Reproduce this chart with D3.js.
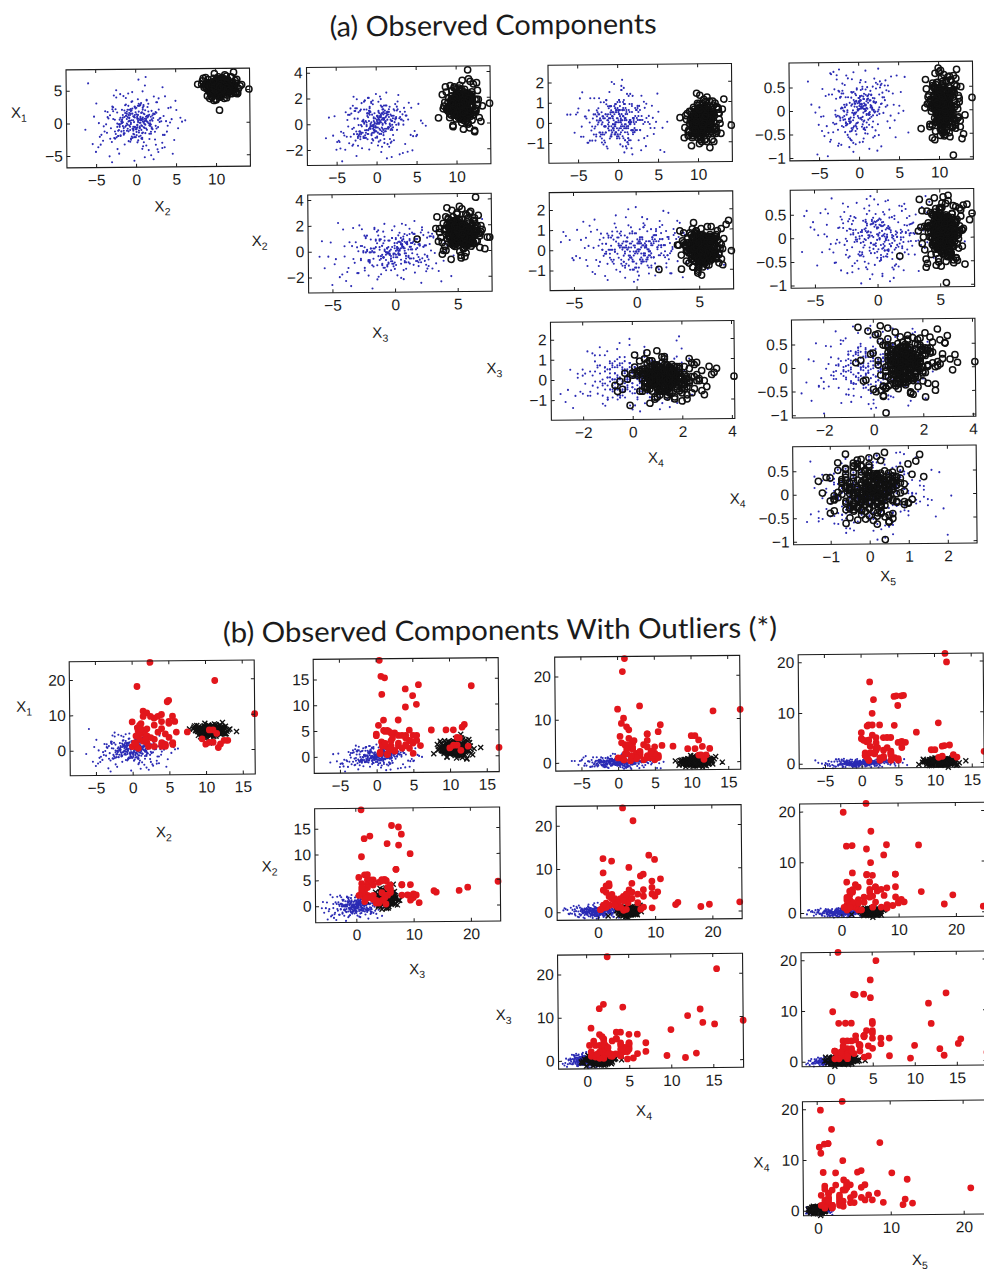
<!DOCTYPE html>
<html>
<head>
<meta charset="utf-8">
<script src="https://cdn.jsdelivr.net/npm/d3@7"></script>
<style>
  body { margin: 0; background: #fff; }
  svg { display: block; }
</style>
</head>
<body>
<svg id="fig" width="984" height="1281"></svg>
<script>
// ---- regular component (blue dots): five observed coordinates per point ----
const blueZ1 = [
  0.4,-1.9,2.7,-0.6,1.2,-3.5,0.8,4.1,-2.3,0.1,-0.9,3.0,-4.4,1.7,-1.2,0.6,2.2,-2.8,5.1,-0.3,
  1.5,-2.0,0.2,-5.2,3.4,-1.4,0.9,-0.2,2.9,-3.1,1.0,4.6,-1.7,0.5,-2.6,1.9,-0.7,3.7,-4.0,0.0,
  -1.1,2.4,-3.8,0.7,1.6,-0.4,-2.1,5.6,-0.8,1.3,-5.9,2.0,0.3,-1.5,3.2,-2.4,0.8,-0.1,1.8,-3.3,
  2.6,-1.0,0.4,-4.7,1.1,3.9,-2.7,0.6,-0.5,2.3,-1.6,4.4,-3.0,0.2,1.4,-2.2,6.2,-0.9,1.0,-1.3,
  -0.2,3.3,-1.8,0.9,-3.6,2.1,-0.6,1.7,-4.9,0.5,2.8,-1.1,0.1,-2.5,3.6,-0.3,1.2,-6.3,2.5,-1.4,
  0.7,-2.9,1.9,-0.8,4.8,-1.2,0.3,-3.9,2.2,1.1,-0.4,-2.0,3.1,-1.5,0.6,5.3,-2.3,0.9,-0.7,1.6,
  -3.2,0.2,2.7,-1.7,0.8,-4.3,1.4,-0.1,3.5,-2.6,0.4,1.8,-1.0,-5.4,2.0,0.7,-0.9,4.0,-2.1,1.3,
  0.0,-1.3,3.8,-0.5,2.4,-3.4,1.0,-2.8,0.5,1.5,-0.2,4.5,-1.9,0.8,-3.7,2.9,-0.6,1.1,-4.6,0.3,
  2.0,-0.8,-2.2,1.2,3.3,-1.6,0.6,-0.3,5.8,-2.4,1.7,-1.1,0.2,-3.0,2.6,-0.7,1.4,-5.0,0.9,-1.8,
  3.0,-0.4,1.0,-2.7,0.4,4.3,-1.4,-0.1,2.1,-3.5,0.7,1.9,-0.9,-2.0,3.4,-1.2,0.5,2.8,-4.1,1.3,
  -0.6,0.9,-1.7,3.6,-2.9,1.6,0.1,-4.5,2.3,-0.3,1.1,-1.5,5.0,-2.3,0.6,-0.8,2.5,-3.2,0.3,1.8,
  0.5,-1.2,1.8,-0.3,0.9,-2.1,0.2,1.4,-0.8,2.5,-1.6,0.7,-0.1,1.1,-2.6,0.4,1.9,-0.6,-1.4,0.8,
  -0.4,1.3,-1.9,0.6,2.2,-0.9,0.1,-2.3,1.6,-0.2,0.9,-1.1,2.8,-0.5,0.3,-1.7,1.2,-0.7,0.0,1.5,
  1.0,-0.6,-1.5,2.0,-0.1,0.7,-2.4,1.3,-0.9,0.4,-1.3,1.7,0.2,-0.4,2.4,-1.9,0.6,-0.2,1.1,-2.8,
  -0.7,0.3,1.6,-1.0,0.8,-0.3,2.1,-1.5,0.0,1.2,-2.0,0.5,-0.6,1.8,-1.1,0.9,-0.1,-2.2,1.4,0.2,
  0.6,-1.8,0.1,1.0,-0.5,2.6,-1.2,0.4,-0.8,1.5,-0.3,0.8,-2.5,0.3,1.9,-1.0,0.1,1.3,-0.4,-1.6
];
const blueZ2 = [
  -1.2,0.8,3.1,-2.4,0.3,1.7,-4.0,2.2,-0.6,-1.9,4.5,0.1,-3.3,1.2,-0.4,2.8,-5.6,0.6,1.9,-1.0,
  2.4,-0.2,-3.0,1.0,5.4,-1.6,0.5,-2.2,3.7,-0.8,1.4,-4.8,0.0,2.6,-1.3,0.9,-2.9,4.0,-0.5,1.6,
  -0.1,-2.6,1.8,0.4,-4.2,3.3,-1.1,0.7,2.0,-3.5,6.1,-0.7,1.2,-1.8,0.2,3.9,-2.3,0.8,-0.3,-5.1,
  1.5,-0.9,2.9,-3.7,0.6,-1.4,4.2,0.0,-2.1,1.3,-0.5,2.3,-6.0,1.0,3.5,-1.2,0.3,-2.8,2.7,-0.6,
  0.9,-3.1,0.2,4.8,-1.5,1.1,-0.2,-2.5,3.0,0.5,-4.5,1.7,-0.8,2.1,-1.9,0.4,5.7,-1.0,-3.4,1.9,
  -0.4,2.5,-1.7,0.8,-2.7,3.8,0.1,-1.3,1.4,-5.3,2.2,-0.6,0.7,4.1,-2.0,-0.9,1.6,-3.6,0.3,2.9,
  1.2,-0.3,-4.1,2.0,0.6,-1.8,3.4,-0.7,1.0,-2.4,6.6,-0.1,0.9,-3.2,1.8,-1.1,2.6,-0.5,-4.7,0.4,
  -2.2,1.5,0.2,3.2,-1.4,0.7,-3.0,2.4,-0.8,1.1,-5.8,0.5,4.4,-1.6,-0.2,2.0,-2.6,1.3,0.0,3.6,
  -0.9,0.3,-2.0,1.9,-3.9,0.8,2.7,-1.2,0.1,5.0,-1.7,1.4,-0.4,-2.9,3.1,-0.6,1.0,-4.4,2.3,-1.3,
  0.6,4.7,-0.7,-2.3,1.7,0.0,-3.3,2.5,-1.0,0.9,3.0,-5.0,1.2,-0.3,-1.9,2.8,-0.8,0.4,-2.7,7.0,
  1.8,-1.5,0.5,-3.8,2.1,-0.1,1.3,-2.1,4.0,-0.9,0.2,-1.6,3.3,-4.0,0.7,1.5,-0.5,-2.4,2.6,-0.2,
  -0.6,1.1,0.3,-1.7,2.0,-0.2,0.8,-1.1,-0.4,1.6,0.1,-2.4,1.2,-0.8,0.5,2.6,-1.4,0.0,0.9,-0.5,
  1.4,-0.9,-2.0,0.4,0.7,-1.3,2.3,-0.1,1.0,-1.8,0.2,0.6,-0.7,1.9,-2.7,0.3,-0.3,1.2,-1.0,0.8,
  0.0,2.1,-1.2,0.5,-0.6,1.5,-2.2,0.9,0.2,-1.5,2.7,-0.4,0.6,-0.9,1.3,-1.9,0.4,0.1,-0.2,1.8,
  -1.1,0.6,1.7,-0.3,-2.5,1.0,0.3,-0.8,2.2,-1.6,0.5,0.0,1.4,-0.5,-1.2,0.8,2.4,-2.0,0.2,-0.7,
  0.9,-0.1,-1.4,2.5,0.4,-0.9,1.1,-2.1,0.7,0.1,-0.6,1.6,-1.7,0.3,-0.3,2.0,-1.0,0.6,-2.3,1.2
];
const blueZ3 = [
  0.3,-0.8,1.1,-1.5,0.0,0.7,-0.4,1.6,-1.1,0.2,-2.0,0.9,-0.6,1.3,-0.2,0.5,-1.3,2.1,-0.9,0.4,
  -0.3,1.0,-1.7,0.6,-0.1,1.8,-0.7,0.1,-2.4,0.8,1.4,-1.0,0.2,-0.5,1.2,-1.4,0.0,0.6,-0.9,2.3,
  -1.2,0.4,0.9,-0.3,-1.8,1.5,-0.6,0.2,1.0,-2.7,0.5,-0.1,1.7,-1.1,0.3,-0.8,1.1,-0.2,-1.5,0.7,
  1.3,-0.5,0.0,-1.3,0.8,-2.2,0.4,1.9,-0.7,0.1,-1.0,1.2,-0.4,0.6,-1.6,0.9,-0.2,2.0,-1.2,0.2,
  -0.6,0.7,-1.9,1.1,0.3,-0.9,1.6,-0.1,-1.4,0.5,2.2,-0.8,0.0,-2.5,0.9,-0.3,1.4,-1.1,0.4,-0.5,
  0.8,-1.6,0.2,1.3,-0.6,-0.1,1.0,-2.0,0.6,-0.4,1.8,-1.2,0.3,0.0,-0.8,1.5,-1.7,0.7,-0.2,1.1,
  -1.0,0.1,1.7,-0.7,0.4,-2.9,0.9,-0.3,1.2,-1.3,0.5,-0.5,2.0,-0.9,0.2,-1.8,1.0,0.3,-0.6,1.4,
  0.0,-1.1,0.6,-0.2,1.5,-1.5,0.3,-0.8,2.1,-0.4,0.8,-2.1,1.1,-0.1,-1.0,0.4,1.7,-0.6,-1.4,0.9,
  -0.5,1.2,-0.9,0.5,-2.3,0.2,1.4,-0.7,0.0,1.9,-1.2,0.6,-0.3,-1.7,1.0,-0.1,0.7,-2.0,0.3,1.6,
  0.5,-0.4,-1.5,1.0,0.1,-0.9,1.8,-1.1,0.4,-0.2,1.3,-2.6,0.8,-0.6,0.2,1.1,-1.3,0.0,-0.7,2.4,
  -0.8,0.9,0.2,-1.6,1.4,-0.3,0.6,-1.9,1.0,-0.5,0.1,1.7,-1.0,0.4,-2.2,0.7,-0.1,1.2,-1.4,0.3,
  0.2,-0.5,0.7,-0.1,0.4,-0.8,0.0,0.9,-0.3,0.5,-1.1,0.3,-0.6,0.1,1.0,-0.4,0.6,-0.2,-0.9,0.8,
  -0.2,0.6,-0.7,0.1,1.1,-0.4,0.3,-1.0,0.5,0.0,-0.5,0.8,-0.1,-1.2,0.4,0.2,-0.6,0.9,-0.3,0.7,
  0.4,-0.9,0.1,0.6,-0.2,-0.6,1.2,-0.4,0.2,0.8,-0.7,0.0,0.5,-1.3,0.3,-0.1,0.7,-0.5,1.0,-0.3,
  -0.4,0.3,0.9,-0.8,0.0,0.5,-0.3,1.1,-0.6,0.2,-1.0,0.6,0.1,-0.2,0.8,-0.9,0.4,-0.1,0.3,-0.7,
  0.6,-0.2,-1.1,0.4,0.7,-0.5,0.1,-0.8,0.9,-0.3,0.2,1.3,-0.6,0.0,-0.4,0.5,-1.0,0.8,-0.1,0.3
];
const blueZ4 = [
  0.2,-0.5,0.8,-0.1,0.4,-0.9,0.6,-0.3,1.2,0.0,-0.7,0.3,1.5,-0.4,0.1,-1.2,0.7,-0.2,0.5,-0.6,
  0.9,-0.1,-0.8,0.4,0.0,1.1,-0.5,0.6,-1.4,0.2,0.7,-0.3,-0.9,1.8,0.1,-0.4,0.5,-0.7,0.3,1.0,
  -0.2,0.6,-1.0,0.3,1.4,-0.6,0.1,-0.3,0.8,-1.1,0.4,0.0,1.0,-0.5,-0.1,0.7,-1.5,0.2,0.9,-0.4,
  0.5,-0.8,0.1,1.2,-0.2,0.3,-0.6,2.1,-0.4,0.6,-1.0,0.2,0.4,-0.3,1.3,-0.7,0.0,0.8,-1.2,0.1,
  -0.5,1.0,0.3,-0.9,0.6,-0.1,0.2,-1.3,0.7,1.6,-0.4,0.0,-0.7,0.5,0.9,-0.2,-1.0,0.4,0.1,1.1,
  0.3,-0.3,1.3,-0.6,0.0,0.8,-1.1,0.2,-0.4,0.5,1.9,-0.8,0.1,-0.2,0.6,-1.4,0.4,0.9,-0.5,0.0,
  -0.9,0.4,0.1,-0.2,1.1,-0.7,0.6,0.0,-1.2,0.3,-0.3,0.8,1.5,-0.5,0.2,-0.8,0.5,-0.1,1.0,-0.6,
  0.7,-1.3,0.0,0.5,-0.4,1.2,0.2,-0.9,0.4,-0.1,0.9,-0.6,0.3,1.7,-1.0,0.1,-0.3,0.6,-0.7,0.8,
  0.1,0.6,-0.5,1.4,-0.8,0.2,-0.2,0.9,-1.5,0.4,0.0,-0.4,1.1,-0.6,0.3,2.0,-0.9,0.5,-0.1,-1.1,
  1.3,-0.2,0.4,-0.7,0.1,0.8,-1.2,0.6,-0.3,0.0,1.0,-0.5,0.2,-1.0,0.7,-0.1,1.6,-0.4,0.3,-0.8,
  -0.3,0.9,-0.6,0.2,1.2,-0.9,0.5,-0.2,0.0,0.7,-1.3,0.4,1.4,-0.5,0.1,-0.7,0.8,-0.2,0.6,-1.6,
  0.1,-0.3,0.5,-0.1,0.2,-0.6,0.4,0.0,-0.4,0.7,-0.2,0.3,-0.8,0.1,0.6,-0.5,0.2,-0.1,0.9,-0.3,
  0.4,-0.2,0.0,-0.7,0.3,0.8,-0.4,0.1,-0.1,0.5,-0.9,0.2,0.6,-0.3,0.0,1.0,-0.5,0.3,-0.6,0.1,
  -0.1,0.5,-0.5,0.2,-0.3,0.7,0.0,-0.8,0.4,-0.2,0.3,-0.4,1.1,-0.1,0.2,-0.6,0.6,0.0,-0.3,0.4,
  0.3,-0.6,0.1,0.8,-0.2,0.0,-0.5,0.4,0.2,-1.0,0.5,-0.1,0.3,-0.4,0.7,0.1,-0.7,0.2,0.0,0.6,
  -0.4,0.2,0.6,-0.3,0.1,-0.9,0.4,0.0,-0.2,0.5,-0.5,0.9,-0.1,0.3,-0.6,0.2,0.1,-0.3,0.8,-0.2
];
const blueZ5 = [
  0.12,-0.35,0.48,-0.07,0.25,-0.62,0.03,0.71,-0.21,0.16,-0.44,0.37,-0.12,0.05,-0.78,0.29,0.58,-0.28,0.09,-0.51,
  0.41,-0.15,0.22,-0.93,0.63,-0.04,0.33,-0.39,0.14,0.82,-0.26,-0.58,0.07,0.45,-0.11,0.19,-0.69,0.52,-0.33,0.01,
  -0.18,0.55,-0.47,0.24,0.08,-0.72,0.36,-0.02,0.66,-0.31,0.13,-0.55,0.43,-0.09,0.27,0.87,-0.42,0.02,-0.24,0.34,
  0.06,-0.63,0.31,-0.13,0.49,-0.38,0.75,-0.05,0.18,-0.86,0.28,0.11,-0.29,0.59,-0.17,0.04,-0.48,0.39,-0.08,0.68,
  -0.27,0.21,-0.02,0.44,-0.66,0.15,0.81,-0.36,0.07,-0.14,0.53,-0.45,0.26,-0.70,0.10,0.32,-0.20,0.62,-0.53,0.00,
  0.35,-0.09,0.17,-0.41,0.73,-0.23,0.04,-0.97,0.46,0.23,-0.32,0.57,-0.06,0.13,-0.60,0.38,-0.16,0.84,-0.37,0.09,
  -0.46,0.30,0.61,-0.19,0.02,-0.54,0.20,-0.01,0.42,-0.75,0.14,0.50,-0.25,-0.04,0.67,-0.40,0.27,-0.12,0.06,-0.82,
  0.19,-0.57,0.40,0.08,-0.30,0.77,-0.10,0.25,-0.67,0.11,0.47,-0.22,0.00,-0.49,0.34,0.56,-0.15,0.03,-0.43,0.64,
  -0.05,0.38,-0.73,0.16,0.52,-0.27,0.09,-0.35,0.70,-0.13,0.01,-0.60,0.29,0.45,-0.08,-0.88,0.21,-0.30,0.60,0.12,
  0.27,-0.44,0.05,0.66,-0.20,0.35,-0.52,0.15,-0.03,0.79,-0.37,0.18,-0.64,0.42,0.07,-0.18,0.50,-0.77,0.31,-0.10,
  -0.34,0.10,0.54,-0.24,0.00,0.33,-0.68,0.46,-0.11,0.20,-0.50,0.74,-0.07,0.28,-0.40,0.13,0.88,-0.26,0.04,-0.58,
  0.05,-0.18,0.26,-0.04,0.12,-0.33,0.20,-0.09,0.38,0.01,-0.25,0.15,-0.12,0.30,-0.41,0.08,-0.02,0.22,-0.29,0.11,
  -0.07,0.34,-0.20,0.03,0.17,-0.38,0.09,0.27,-0.14,0.44,-0.01,-0.27,0.13,-0.05,0.21,-0.46,0.31,0.00,-0.16,0.06,
  0.19,-0.10,-0.31,0.25,0.02,-0.22,0.40,-0.06,0.10,-0.35,0.28,0.04,-0.18,0.14,-0.03,0.36,-0.24,0.07,0.23,-0.13,
  -0.21,0.08,0.32,-0.15,-0.02,0.18,-0.43,0.11,0.26,-0.08,0.05,-0.30,0.39,-0.11,0.16,0.00,-0.26,0.29,-0.04,0.13,
  0.24,-0.12,0.03,-0.36,0.14,0.33,-0.19,0.07,-0.05,0.21,-0.28,0.10,0.42,-0.16,0.01,-0.23,0.18,-0.09,0.35,-0.32
];

// ---- shifted component (black circles / crosses) ----
const blackZ1 = [
  10.6,9.8,11.3,10.1,12.0,9.2,10.9,11.6,10.3,8.7,11.0,10.4,12.4,9.6,10.8,11.9,9.9,10.2,13.1,10.7,
  9.4,11.2,10.5,8.3,11.7,10.0,12.2,9.7,10.9,11.4,10.2,9.1,12.7,10.6,9.5,11.1,10.3,12.0,8.9,10.8,
  11.5,10.1,9.3,10.7,12.5,9.9,11.0,10.4,8.5,11.8,10.6,9.6,11.3,10.0,12.9,9.8,10.5,11.6,9.2,10.9,
  10.3,12.1,9.7,11.0,10.6,8.8,11.4,10.2,9.9,12.6,10.8,11.2,9.4,10.0,11.7,10.4,9.0,12.3,10.7,11.1,
  9.6,10.9,11.8,10.1,9.3,12.0,10.5,11.3,8.6,10.7,11.9,9.8,10.3,12.8,10.0,11.5,9.5,10.8,11.0,9.1,
  12.4,10.2,9.7,11.1,10.6,8.9,11.6,10.4,12.2,9.9,10.8,11.3,9.4,10.1,13.3,10.5,9.6,11.7,10.3,12.0,
  10.7,9.2,11.2,10.0,12.5,9.8,10.9,11.5,10.2,8.4,11.0,10.6,12.1,9.5,10.4,11.8,9.9,10.8,11.4,10.1,
  9.7,11.9,10.3,12.7,10.5,9.0,11.1,10.0,11.6,9.6,10.9,12.3,10.2,9.3,11.3,10.7,8.8,11.5,10.4,12.6,
  14.2,11.5,12.3,11.8,10.5,7.8,
  10.4,10.9,10.1,11.2,10.6,9.9,10.8,11.4,10.3,9.7,11.0,10.5,10.0,11.6,10.7,9.5,10.2,11.1,10.6,10.0,
  11.3,10.4,9.8,10.9,10.1,11.5,10.6,9.6,10.3,11.0,10.8,9.9,11.7,10.2,10.5,11.2,9.4,10.7,10.0,11.4,
  10.6,10.1,11.1,9.8,10.4,11.6,10.2,10.9,9.6,10.7,11.3,10.0,10.5,9.3,11.0,10.3,11.8,10.6,9.9,10.8,
  10.2,11.5,10.7,10.0,11.1,9.7,10.5,10.9,10.3,11.4,9.9,10.6,11.0,10.1,9.5,10.8,11.2,10.4,10.0,11.7,
  9.8,10.6,11.3,10.2,10.9,9.6,10.4,11.1,10.7,10.0,11.5,10.3,9.9,10.8,11.2,10.5,9.4,10.1,11.0,10.6,
  11.1,10.3,9.7,10.8,10.5,11.4,10.0,10.7,9.9,11.2,10.4,10.9,9.6,10.6,11.6,10.2,10.8,9.8,11.0,10.5
];
const blackZ2 = [
  5.6,4.8,6.2,5.1,4.3,5.9,6.8,5.0,4.5,5.7,6.3,4.9,5.4,3.8,6.0,5.2,4.6,6.6,5.5,4.1,
  5.0,6.4,4.7,5.8,5.3,3.5,6.1,4.4,5.6,7.0,4.9,5.2,6.5,4.0,5.9,5.4,4.6,6.9,5.1,4.2,
  6.0,4.8,5.5,3.9,6.3,5.0,4.5,5.8,6.7,5.3,4.1,5.7,6.2,4.7,5.1,3.3,6.0,5.5,4.9,6.4,
  4.4,5.9,5.2,6.6,4.8,5.4,3.7,6.1,5.0,4.6,5.8,7.2,4.3,5.6,5.1,6.3,4.0,5.3,5.9,4.7,
  5.7,4.5,6.0,5.1,3.6,5.5,6.4,4.9,5.3,4.2,6.8,5.0,5.6,4.4,6.2,5.2,3.9,5.8,4.7,6.5,
  5.1,6.3,4.6,5.4,4.0,5.9,5.2,6.9,4.8,5.6,4.3,6.1,5.0,3.4,5.7,6.6,4.5,5.3,6.0,4.9,
  6.2,4.7,5.3,5.9,4.4,6.7,5.0,4.1,5.6,6.3,5.2,3.8,5.8,6.0,4.6,5.4,7.4,4.9,5.5,4.2,
  4.8,5.5,6.5,4.3,5.1,6.0,3.6,5.7,6.4,4.9,5.3,4.5,6.1,5.0,5.8,4.0,6.8,5.2,4.6,5.9,
  5.0,6.5,7.6,5.5,1.8,5.8,
  5.4,5.0,5.9,4.8,5.2,5.7,4.6,5.5,6.1,5.1,4.9,5.8,5.3,4.4,5.6,6.0,5.0,4.7,5.4,5.9,
  5.1,5.6,4.5,5.3,6.2,4.9,5.5,5.8,4.7,5.2,6.0,5.0,4.6,5.7,5.3,4.8,5.9,5.4,6.3,5.0,
  5.7,4.9,5.3,6.0,5.1,4.6,5.5,5.2,5.9,4.8,5.4,6.1,5.0,5.6,4.5,5.8,5.3,4.9,5.6,5.2,
  4.8,5.5,6.2,5.1,5.3,4.7,5.8,5.0,5.4,6.0,4.9,5.6,5.2,4.6,5.9,5.3,5.7,5.0,4.8,5.5,
  5.3,6.0,4.7,5.5,5.0,5.8,5.2,4.5,5.6,5.1,5.9,4.9,5.4,6.1,5.0,4.7,5.5,5.8,5.2,4.9,
  5.6,5.1,5.4,4.8,6.0,5.3,4.9,5.7,5.2,4.6,5.5,5.0,5.9,5.3,4.8,5.6,5.1,6.2,5.0,5.4
];
const blackZ3 = [
  1.3,0.6,1.9,0.9,2.4,1.1,0.2,1.6,1.0,2.8,0.5,1.4,1.8,-0.3,1.2,2.1,0.8,1.5,0.1,2.6,
  1.0,1.7,0.4,2.2,1.3,0.7,3.0,1.1,-0.5,1.6,2.0,0.9,1.4,0.3,2.5,1.2,0.6,1.9,1.0,3.3,
  0.8,2.3,1.5,0.0,1.1,1.8,0.5,2.7,1.3,0.9,1.6,-0.2,2.0,1.2,0.4,1.7,2.9,1.0,0.7,1.4,
  2.1,0.6,1.2,1.9,0.3,2.4,1.0,1.5,0.8,3.1,1.3,0.1,1.8,1.1,2.2,0.5,1.6,-0.6,1.4,2.6,
  1.1,1.7,0.7,2.0,1.4,0.2,2.5,1.0,1.6,0.9,1.3,2.8,0.4,1.8,1.2,-0.1,2.1,1.5,0.6,1.9,
  0.9,2.3,1.2,0.5,1.7,1.0,3.4,1.4,0.8,2.0,1.1,0.3,1.6,2.6,1.3,0.7,1.9,-0.4,1.5,2.2,
  1.6,0.4,2.1,1.2,0.9,2.7,1.4,0.0,1.8,1.1,2.4,0.6,1.3,1.7,0.8,3.2,1.0,1.5,0.2,2.0,
  1.2,1.9,0.7,2.5,1.4,0.9,1.7,0.3,2.2,1.0,1.6,-0.7,1.3,2.9,0.8,1.5,1.1,2.3,0.5,1.8,
  1.5,4.1,1.0,0.5,0.9,0.4,
  1.2,1.6,0.8,1.4,1.0,1.9,1.3,0.7,1.5,1.1,2.0,1.2,0.6,1.7,1.3,0.9,1.5,2.1,1.0,1.4,
  1.5,0.9,1.3,1.8,1.1,0.5,1.6,1.2,2.2,1.0,1.4,0.8,1.7,1.3,0.7,1.9,1.1,1.5,0.6,1.2,
  1.0,1.7,1.2,0.6,1.4,2.0,1.1,1.5,0.9,1.3,1.8,0.7,1.6,1.2,2.3,1.0,1.4,0.8,1.7,1.3,
  1.6,1.1,0.7,1.5,1.3,1.9,0.9,1.4,1.2,0.5,1.7,1.0,1.5,2.1,1.2,0.8,1.6,1.3,1.0,1.8,
  1.3,0.8,1.8,1.2,1.5,0.9,1.4,2.0,1.1,1.6,0.7,1.3,1.9,1.0,1.5,1.2,0.6,1.7,1.4,1.1,
  0.9,1.5,1.2,1.8,1.0,1.4,0.6,1.6,1.3,2.2,1.1,0.8,1.5,1.2,1.9,1.0,1.4,0.7,1.6,1.3
];
const blackZ4 = [
  0.1,-0.4,0.5,-0.1,0.8,-0.6,0.2,0.0,-0.9,0.4,-0.2,0.7,-0.5,0.3,1.1,-0.3,0.1,-0.7,0.6,-0.1,
  -0.3,0.6,0.0,-0.8,0.3,0.9,-0.4,0.2,-0.1,0.5,-1.1,0.1,0.4,-0.6,0.7,-0.2,1.3,0.0,-0.5,0.3,
  0.4,-0.2,-0.7,0.2,0.6,-0.4,1.0,-0.1,0.3,-0.9,0.5,0.0,-0.3,0.8,-0.6,0.2,-0.1,0.4,-1.2,0.7,
  -0.5,0.3,0.1,-0.2,0.9,-0.7,0.4,-0.3,0.0,0.6,-0.4,1.2,0.2,-0.8,0.1,0.5,-0.1,-0.6,0.3,0.8,
  0.2,-0.9,0.6,0.0,-0.3,0.4,-0.5,0.7,0.1,-0.2,1.0,-0.6,0.3,-0.1,0.5,-1.3,0.2,0.6,-0.4,0.0,
  0.7,-0.1,-0.6,0.3,0.1,-0.4,0.5,-0.8,0.9,0.0,-0.2,0.4,-0.7,0.2,1.1,-0.3,0.6,-0.5,0.1,-1.0,
  -0.2,0.5,0.2,-0.5,0.7,0.0,-0.9,0.3,0.6,-0.3,0.1,0.8,-0.4,0.4,-0.6,0.2,1.4,-0.1,0.3,-0.7,
  0.3,-0.6,0.9,0.1,-0.2,0.5,-1.0,0.4,-0.4,0.0,0.7,-0.3,0.2,-0.8,0.6,0.1,-0.5,1.0,-0.1,0.4,
  -0.2,0.1,-0.1,0.4,-1.0,0.2,
  0.0,0.3,-0.2,0.4,-0.1,0.1,-0.4,0.2,0.5,-0.3,0.1,0.0,-0.5,0.3,0.2,-0.2,0.6,-0.1,0.0,0.4,
  -0.3,0.2,0.5,-0.1,0.0,-0.4,0.3,0.1,-0.2,0.6,-0.5,0.2,0.0,0.4,-0.3,0.1,-0.1,0.5,0.2,-0.6,
  0.2,-0.2,0.0,0.4,-0.3,0.1,0.6,-0.4,0.3,-0.1,0.2,-0.5,0.1,0.0,0.5,-0.2,0.3,-0.3,0.0,0.7,
  0.4,-0.1,0.2,-0.6,0.1,0.3,-0.2,0.0,0.5,-0.4,0.2,0.1,-0.3,0.6,-0.1,0.0,0.3,-0.5,0.2,-0.2,
  -0.1,0.5,-0.3,0.1,0.2,-0.2,0.4,-0.5,0.0,0.3,-0.1,0.6,0.1,-0.4,0.2,0.0,-0.2,0.4,-0.6,0.1,
  0.3,0.0,-0.4,0.2,0.5,-0.1,0.1,-0.3,0.4,0.0,-0.6,0.2,0.3,-0.2,0.1,0.6,-0.1,0.0,0.3,-0.4
];
const blackZ5 = [
  0.08,-0.21,0.35,-0.05,0.52,-0.33,0.14,0.62,-0.12,0.27,-0.44,0.19,0.01,-0.27,0.41,0.72,-0.08,0.23,-0.52,0.11,
  0.30,-0.15,0.47,0.04,-0.38,0.21,0.66,-0.02,0.15,-0.58,0.36,0.09,-0.24,0.55,0.00,-0.11,0.83,0.18,-0.31,0.25,
  -0.06,0.40,0.12,-0.47,0.29,0.58,-0.19,0.06,0.44,-0.35,0.20,0.77,-0.09,0.33,-0.62,0.13,0.50,-0.14,0.03,0.37,
  0.24,-0.40,0.07,0.61,-0.17,0.31,0.00,-0.55,0.45,0.16,-0.26,0.69,0.10,-0.07,0.39,-0.45,0.22,0.85,-0.13,0.02,
  0.43,-0.10,0.26,-0.30,0.56,0.05,-0.50,0.34,0.12,0.74,-0.20,0.17,-0.41,0.48,0.04,0.28,-0.64,0.15,0.60,-0.04,
  -0.18,0.32,0.53,-0.08,0.20,-0.36,0.09,0.67,-0.23,0.38,0.01,-0.49,0.27,0.80,-0.12,0.14,0.46,-0.29,0.06,0.35,
  0.19,-0.60,0.40,0.11,-0.16,0.57,-0.03,0.30,-0.42,0.64,0.08,0.23,-0.33,0.49,0.13,-0.07,0.36,-0.53,0.71,0.00,
  -0.25,0.42,0.06,-0.37,0.59,0.18,-0.14,0.88,0.03,-0.46,0.28,0.10,-0.20,0.51,0.37,-0.56,0.15,0.63,-0.09,0.24,
  0.25,0.10,0.50,-0.97,-0.40,-0.40,
  0.02,0.21,-0.15,0.30,-0.04,0.12,-0.26,0.37,0.08,-0.10,0.25,-0.31,0.15,0.00,0.42,-0.18,0.10,0.28,-0.07,0.19,
  -0.12,0.33,0.05,-0.22,0.17,0.46,-0.02,0.11,-0.35,0.24,0.07,-0.14,0.38,0.01,-0.27,0.20,0.13,-0.05,0.31,-0.19,
  0.16,-0.08,0.27,0.04,-0.30,0.35,0.09,-0.17,0.22,0.48,-0.01,0.14,-0.24,0.06,0.29,-0.11,0.40,0.03,-0.20,0.18,
  0.26,-0.16,0.08,0.36,-0.06,0.19,-0.33,0.12,0.44,0.00,-0.21,0.23,0.05,-0.12,0.32,0.15,-0.28,0.09,0.39,-0.03,
  -0.09,0.28,0.14,-0.25,0.41,0.02,0.18,-0.13,0.07,0.34,-0.37,0.21,0.10,-0.04,0.26,-0.19,0.47,0.06,-0.15,0.12,
  0.11,-0.20,0.35,0.03,-0.10,0.24,0.43,-0.29,0.16,0.01,0.30,-0.07,0.20,-0.34,0.09,0.38,-0.02,0.13,-0.23,0.27
];

// ---- outliers (red, panel b only) ----
const redZ1 = [
  16.7,13,11.5,10.5,9.5,7.5,12,11,12.5,10,
  10.5,11,11.7,1.2,5.8,5.5,4.5,1.7,5,1.5,
  1,0.7,3,0,0.8,0.5,1.2,4,4,5.5,
  2.5,0.7,5,1.5,2,4,11.3,4.8,0,1,
  2,3,4,1,2,1,2,0.5,3,4,
  4.5,5.5,3,4,5,6,1.5,3.5,2.5,0.5,
  1.5,0.8,2.5,3.5,1.2,5,2.2,0.3,4.5,1.8
];
const redZ2 = [
  10,2.5,4.5,2,3,5,1.5,5.5,2.5,1.5,
  5.5,2,0.5,5.3,8,2,1,4.5,7.5,5.2,
  4.5,6.3,9,1,5.5,1,7.5,1.5,1,9.5,
  24.8,18,14,11,10.5,10,19.5,13.6,8,7,
  6,7,6,5,4,3,2,1.5,3,2,
  1.5,1.5,1,8,8,5,9.5,9.5,9.5,4,
  2.5,0.5,3.5,5,6,3.5,1,2,4.5,3
];
const redZ3 = [
  1.5,13.5,1,5,5,5,6,3.5,1.8,1.5,
  2,2,5.5,4.8,13.8,4,3,4.8,11.7,0.3,
  2.5,15.5,2,4.3,12,18.6,15.2,13,9.5,10,
  4.5,2.8,2.5,0.5,2,2.2,3.4,2.8,4,7,
  3,7,4,5,4.5,2,1.5,0.8,4,3.5,
  1.5,3,2.5,2,4,2,1.8,4,1,0.5,
  5,2,1,1.5,2.5,0.5,3.5,6,5,1.2
];
const redZ4 = [
  12,11.7,3.5,6,3,3.6,1.5,5,3,6,
  3,1.5,0.5,2,8.6,1.5,1,0.3,0.5,3.5,
  24,21,13,12.3,10.2,9,8.2,1.5,1,7,
  2,1,2,7.5,4.5,3.5,1.5,1.5,1,4,
  4.5,2,6.5,4,3,2,3.5,4.5,2.5,6.5,
  2,1,1.5,5,3.5,3.8,5.5,4,0.8,1,
  4,0.5,1,0.5,3,2,5,6,2.5,1.5
];
const redZ5 = [
  2.1,1,21.5,7.8,2.5,6,3.4,3.2,1.5,2.5,
  1,1.2,19.8,16,13.3,13.2,13.1,12.5,11.3,9.8,
  7.5,4.2,1.3,6,7.3,1.5,3.3,2.3,0.5,3,
  1,1.5,4,2,2.5,1.8,3.3,13.2,4.8,4.5,
  5,1,5,4.5,3,0.5,4,1.5,5,2,
  1,4.2,2.5,1.5,0.8,4,7.5,5,7.5,2,
  5.5,1,0.5,3,2,0.5,3,4.5,7.4,1.8
];

// ---- axis limits and ticks: x axis by panel row (X1..X4), y axis by panel column (X2..X5) ----
const aXDomains = [[-8.65, 14.3], [-6.9, 7.75], [-3.28, 4.12], [-1.95, 2.75]];
const aYDomains = [[-6.8, 8.2], [-3.2, 4.4], [-2.0, 2.86], [-1.06, 1.02]];
const aXTicks = [[-5, 0, 5, 10], [-5, 0, 5], [-2, 0, 2, 4], [-1, 0, 1, 2]];
const aYTicks = [[-5, 0, 5], [-2, 0, 2, 4], [-1, 0, 1, 2], [-1, -0.5, 0, 0.5]];

const bXDomains = [[-8.5, 16.7], [-7.1, 25.2], [-3.4, 18.6], [-1.95, 23.4]];
const bYDomains = [[-7.1, 25.2], [-3.2, 18.9], [-1.9, 24.5], [-1.0, 21.5]];
const bXTicks = [[-5, 0, 5, 10, 15], [0, 10, 20], [0, 5, 10, 15], [0, 10, 20]];
const bYTicks = [[0, 10, 20], [0, 5, 10, 15], [0, 10, 20], [0, 10, 20]];

const titles = ["(a) Observed Components", "(b) Observed Components With Outliers (*)"];
const subscripts = ["1", "2", "3", "4", "5"];

// ---- assemble point records ----
function zip(cols) {
  const n = d3.min(cols, c => c.length);
  return d3.range(n).map(i => cols.map(c => c[i]));
}
const bluePts = zip([blueZ1, blueZ2, blueZ3, blueZ4, blueZ5]);
const blackPts = zip([blackZ1, blackZ2, blackZ3, blackZ4, blackZ5]);
const redPts = zip([redZ1, redZ2, redZ3, redZ4, redZ5]);

// ---- page layout ----
const sections = [
  {
    title: titles[0], titleX: 499, titleY: 35, titleLen: 327,
    colLeft: [71.5, 312, 553.5, 794.5], rowTop: [65.8, 193.2, 322.9, 449.6], w: 183.5, h: 98,
    xDomains: aXDomains, yDomains: aYDomains, xTicks: aXTicks, yTicks: aYTicks,
    leftLab: [[-50, -7], [-51, -4], [-59, -4], [-58, 2]],
    bottomLab: [[1, 39], [-23, 40], [10, 38], [0, 32]],
    outliers: false
  },
  {
    title: titles[1], titleX: 500, titleY: 640, titleLen: 554,
    colLeft: [69, 313, 554.5, 798], rowTop: [657.7, 807, 955.7, 1104.7], w: 185, h: 114,
    xDomains: bXDomains, yDomains: bYDomains, xTicks: bXTicks, yTicks: bYTicks,
    leftLab: [[-48, -13], [-48, 0], [-57, 2], [-44, 3]],
    bottomLab: [[-2, 57], [6, 47], [-10, 42], [21, 45]],
    outliers: true
  }
];

const INK = "#1b1b1b";
const BLUE = "#2b2bb4";
const RED = "#e2161c";
const tickFont = "'Liberation Sans', Arial, sans-serif";
const fmt = v => (v < 0 ? "\u2212" + Math.abs(v) : String(v));

const svg = d3.select("#fig");
svg.append("rect").attr("width", 984).attr("height", 1281).attr("fill", "#fff");
const root = svg.append("g").attr("transform", "rotate(-0.55,492,640)");

function varLabel(cx, cy, sub) {
  const t = root.append("text")
    .attr("x", cx - 5.5).attr("y", cy + 5.4)
    .attr("font-family", tickFont).attr("font-size", 15).attr("fill", INK);
  t.append("tspan").text("X");
  t.append("tspan").attr("dy", 4).attr("font-size", 10.5).text(sub);
}

function styleAxis(g) {
  g.select(".domain").remove();
  g.selectAll(".tick line").attr("stroke", INK).attr("stroke-width", 1);
  g.selectAll(".tick text").attr("fill", INK)
    .attr("font-family", tickFont).attr("font-size", 15.5);
}

const crossPath = "M-2.5,-2.5L2.5,2.5M-2.5,2.5L2.5,-2.5";

sections.forEach(sec => {
  root.append("text")
    .attr("x", sec.titleX).attr("y", sec.titleY)
    .attr("text-anchor", "middle")
    .attr("font-family", "Lato, 'Open Sans', sans-serif")
    .attr("font-size", 28).attr("fill", INK)
    .attr("textLength", sec.titleLen).attr("lengthAdjust", "spacingAndGlyphs")
    .text(sec.title);

  for (let r = 0; r < 4; r++) {
    for (let c = r; c < 4; c++) {
      const x0 = sec.colLeft[c], y0 = sec.rowTop[r];
      const xs = d3.scaleLinear().domain(sec.xDomains[r]).range([x0, x0 + sec.w]);
      const ys = d3.scaleLinear().domain(sec.yDomains[c]).range([y0 + sec.h, y0]);
      const xi = r, yi = c + 1;
      const panel = root.append("g");

      // markers
      panel.append("g").selectAll("circle").data(bluePts).join("circle")
        .attr("cx", d => xs(d[xi])).attr("cy", d => ys(d[yi]))
        .attr("r", 1.05).attr("fill", BLUE);

      if (!sec.outliers) {
        panel.append("g").selectAll("circle").data(blackPts).join("circle")
          .attr("cx", d => xs(d[xi])).attr("cy", d => ys(d[yi]))
          .attr("r", 3.1).attr("fill", "none").attr("stroke", "#111").attr("stroke-width", 1.5);
      } else {
        panel.append("g").selectAll("path").data(blackPts).join("path")
          .attr("transform", d => `translate(${xs(d[xi])},${ys(d[yi])})`)
          .attr("d", crossPath).attr("stroke", "#111").attr("stroke-width", 1.35).attr("fill", "none");
        panel.append("g").selectAll("circle").data(redPts).join("circle")
          .attr("cx", d => xs(d[xi])).attr("cy", d => ys(d[yi]))
          .attr("r", 3.4).attr("fill", RED);
      }

      // axes (ticks point inward, mirrored on all four sides)
      panel.append("g").attr("transform", `translate(0,${y0 + sec.h})`)
        .call(d3.axisBottom(xs).tickValues(sec.xTicks[r]).tickSize(-3.5).tickPadding(7).tickFormat(fmt))
        .call(styleAxis);
      panel.append("g").attr("transform", `translate(0,${y0})`)
        .call(d3.axisTop(xs).tickValues(sec.xTicks[r]).tickSize(-3.5).tickFormat(""))
        .call(styleAxis);
      panel.append("g").attr("transform", `translate(${x0},0)`)
        .call(d3.axisLeft(ys).tickValues(sec.yTicks[c]).tickSize(-3.5).tickPadding(4).tickFormat(fmt))
        .call(styleAxis);
      panel.append("g").attr("transform", `translate(${x0 + sec.w},0)`)
        .call(d3.axisRight(ys).tickValues(sec.yTicks[c]).tickSize(-3.5).tickFormat(""))
        .call(styleAxis);

      panel.append("rect")
        .attr("x", x0).attr("y", y0).attr("width", sec.w).attr("height", sec.h)
        .attr("fill", "none").attr("stroke", INK).attr("stroke-width", 1.1);
    }

    // variable labels: left of the diagonal panel and beneath it
    const dx0 = sec.colLeft[r], dy0 = sec.rowTop[r];
    varLabel(dx0 + sec.leftLab[r][0], dy0 + sec.h / 2 + sec.leftLab[r][1], subscripts[r]);
    varLabel(dx0 + sec.w / 2 + sec.bottomLab[r][0], dy0 + sec.h + sec.bottomLab[r][1], subscripts[r + 1]);
  }
});
</script>
</body>
</html>
